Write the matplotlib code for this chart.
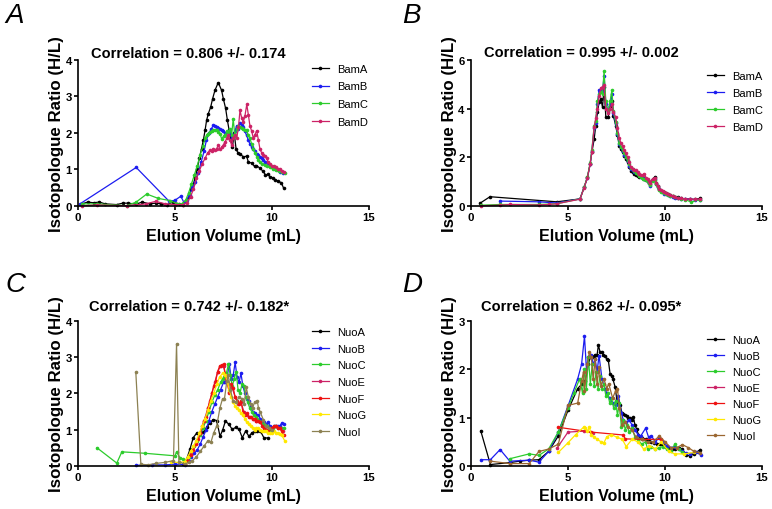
import matplotlib
matplotlib.use("Agg")
import matplotlib.pyplot as plt

plt.rcParams["font.family"] = ["Liberation Sans", "DejaVu Sans"]

# ---- panel A: Bam, weak correlation ----
a_bamA = [(0.2, 0.05), (0.5, 0.1), (0.8, 0.08), (1.1, 0.1), (1.4, 0.05), (2.0, 0.03), (2.3, 0.07), (2.6, 0.07),
          (3.0, 0.04), (3.3, 0.1), (3.7, 0.05), (4.0, 0.07), (4.3, 0.05), (4.6, 0.03), (4.9, 0.1), (5.2, 0.05),
          (5.4, 0.03), (5.55, 0.09), (5.7, 0.23), (5.85, 0.46), (5.95, 0.6), (6.05, 0.79), (6.15, 1.02), (6.25, 1.3),
          (6.37, 1.57), (6.46, 1.8), (6.55, 2.07), (6.63, 2.35), (6.72, 2.53), (6.84, 2.71), (6.94, 2.94), (7.06, 3.17),
          (7.23, 3.38), (7.4, 3.17), (7.49, 2.94), (7.61, 2.67), (7.7, 2.35), (7.79, 2.07), (7.88, 1.8), (7.96, 1.6),
          (8.05, 2.0), (8.15, 1.55), (8.25, 1.45), (8.35, 1.43), (8.52, 1.34), (8.69, 1.36), (8.78, 1.2), (8.95, 1.17),
          (9.1, 1.08), (9.2, 1.1), (9.36, 1.04), (9.53, 0.95), (9.66, 0.85), (9.79, 0.86), (9.92, 0.78), (10.05, 0.77),
          (10.18, 0.7), (10.3, 0.68), (10.48, 0.63), (10.6, 0.48)]
a_bamB = [(0.1, 0.05), (3.0, 1.05), (4.7, 0.12), (5.0, 0.15), (5.3, 0.26), (5.45, 0.1), (5.6, 0.15), (5.75, 0.3),
          (5.9, 0.5), (6.05, 0.65), (6.2, 0.9), (6.35, 1.2), (6.5, 1.5), (6.62, 1.8), (6.75, 2.0), (6.87, 2.1),
          (6.98, 2.22), (7.07, 2.2), (7.15, 2.16), (7.24, 2.12), (7.32, 2.1), (7.4, 2.08), (7.49, 2.05), (7.58, 2.0),
          (7.67, 2.02), (7.76, 2.06), (7.84, 2.0), (7.92, 1.85), (8.0, 1.9), (8.09, 2.05), (8.18, 2.2), (8.27, 2.1),
          (8.35, 2.28), (8.44, 2.22), (8.52, 2.16), (8.6, 2.05), (8.69, 1.93), (8.78, 1.8), (8.86, 1.7), (8.95, 1.62),
          (9.04, 1.57), (9.12, 1.5), (9.21, 1.43), (9.3, 1.38), (9.38, 1.34), (9.47, 1.3), (9.55, 1.25), (9.65, 1.2),
          (9.8, 1.16), (9.92, 1.1), (10.05, 1.07), (10.18, 1.0), (10.3, 0.98), (10.43, 0.93), (10.56, 0.89)]
a_bamC = [(0.2, 0.05), (1.0, 0.05), (2.5, 0.0), (3.0, 0.1), (3.54, 0.32), (4.14, 0.2), (4.74, 0.14), (5.1, 0.06),
          (5.35, 0.05), (5.55, 0.15), (5.7, 0.35), (5.85, 0.6), (6.0, 0.85), (6.15, 1.1), (6.3, 1.4), (6.45, 1.65),
          (6.55, 1.85), (6.63, 1.93), (6.72, 1.98), (6.8, 2.02), (6.9, 2.05), (6.98, 2.07), (7.07, 2.08), (7.15, 2.07),
          (7.24, 2.02), (7.32, 1.98), (7.4, 1.84), (7.5, 1.9), (7.6, 1.95), (7.68, 2.05), (7.75, 2.02), (7.84, 2.1),
          (7.92, 1.95), (8.0, 2.38), (8.09, 1.9), (8.18, 2.1), (8.27, 2.2), (8.35, 2.15), (8.44, 2.12), (8.52, 2.11),
          (8.6, 2.09), (8.69, 2.07), (8.78, 1.93), (8.86, 1.85), (8.95, 1.7), (9.04, 1.55), (9.12, 1.45), (9.21, 1.35),
          (9.3, 1.25), (9.38, 1.2), (9.5, 1.15), (9.62, 1.12), (9.75, 1.1), (9.9, 1.05), (10.05, 1.0), (10.2, 0.98),
          (10.35, 0.95), (10.5, 0.92), (10.65, 0.89)]
a_bamD = [(0.2, 0.0), (1.0, 0.02), (2.5, 0.0), (3.5, 0.05), (4.0, 0.12), (4.5, 0.05), (5.0, 0.03), (5.4, 0.03),
          (5.6, 0.08), (5.8, 0.25), (5.95, 0.45), (6.1, 0.75), (6.25, 0.95), (6.4, 1.15), (6.55, 1.3), (6.68, 1.45),
          (6.8, 1.52), (6.9, 1.5), (6.98, 1.57), (7.07, 1.52), (7.15, 1.57), (7.23, 1.66), (7.32, 1.55), (7.4, 1.6),
          (7.5, 1.68), (7.58, 1.75), (7.67, 1.85), (7.75, 1.93), (7.84, 1.8), (7.92, 1.66), (8.0, 1.85), (8.09, 1.95),
          (8.18, 1.85), (8.27, 2.15), (8.35, 2.62), (8.44, 2.4), (8.52, 2.3), (8.6, 2.45), (8.7, 2.78), (8.78, 2.5),
          (8.86, 2.2), (8.95, 2.05), (9.04, 1.85), (9.12, 1.95), (9.21, 2.06), (9.3, 1.8), (9.38, 1.55), (9.47, 1.45),
          (9.55, 1.4), (9.64, 1.37), (9.72, 1.3), (9.8, 1.2), (9.9, 1.15), (10.0, 1.1), (10.1, 1.08), (10.2, 1.05),
          (10.3, 1.02), (10.4, 1.0), (10.5, 0.95), (10.6, 0.92)]

# ---- panel B: Bam, strong correlation ----
b_bamA = [(0.46, 0.1), (0.98, 0.37), (4.42, 0.16), (5.62, 0.28), (5.83, 0.76), (6.0, 1.17), (6.14, 1.72), (6.23, 2.2),
          (6.35, 2.75), (6.43, 3.3), (6.52, 3.85), (6.6, 4.26), (6.69, 4.4), (6.78, 4.05), (6.86, 4.9), (6.95, 3.64),
          (7.07, 3.64), (7.17, 4.12), (7.26, 4.33), (7.34, 3.7), (7.46, 3.3), (7.55, 2.9), (7.64, 2.47), (7.72, 2.33),
          (7.81, 2.2), (7.9, 2.06), (7.98, 1.92), (8.07, 1.79), (8.15, 1.58), (8.24, 1.44), (8.33, 1.37), (8.41, 1.3),
          (8.5, 1.27), (8.59, 1.24), (8.68, 1.2), (8.76, 1.17), (8.85, 1.13), (8.93, 1.1), (9.02, 1.06), (9.1, 1.03),
          (9.17, 0.95), (9.24, 0.9), (9.36, 1.1), (9.48, 1.17), (9.55, 0.95), (9.62, 0.82), (9.7, 0.7), (9.79, 0.62),
          (9.88, 0.58), (9.96, 0.55), (10.05, 0.52), (10.14, 0.48), (10.27, 0.44), (10.4, 0.41), (10.52, 0.37),
          (10.65, 0.34), (10.85, 0.3), (11.05, 0.28), (11.3, 0.27), (11.55, 0.26), (11.82, 0.3)]
b_bamB = [(1.5, 0.19), (3.5, 0.16), (4.42, 0.11), (5.62, 0.28), (5.83, 0.75), (6.0, 1.15), (6.14, 1.7), (6.23, 2.25),
          (6.35, 3.2), (6.43, 3.4), (6.52, 4.2), (6.6, 4.75), (6.69, 4.8), (6.78, 4.7), (6.86, 5.35), (6.95, 4.2),
          (7.07, 3.9), (7.17, 4.2), (7.26, 4.6), (7.34, 3.8), (7.46, 3.4), (7.55, 2.95), (7.64, 2.55), (7.72, 2.4),
          (7.81, 2.25), (7.9, 2.1), (7.98, 2.0), (8.07, 1.85), (8.15, 1.65), (8.24, 1.5), (8.33, 1.45), (8.41, 1.4),
          (8.5, 1.38), (8.59, 1.3), (8.68, 1.25), (8.76, 1.2), (8.85, 1.15), (8.93, 1.12), (9.02, 1.08), (9.1, 1.0),
          (9.17, 0.92), (9.24, 0.8), (9.36, 1.05), (9.48, 1.1), (9.55, 0.9), (9.62, 0.78), (9.7, 0.68), (9.79, 0.6),
          (9.88, 0.55), (9.96, 0.5), (10.05, 0.48), (10.14, 0.45), (10.27, 0.4), (10.4, 0.36), (10.52, 0.33),
          (10.65, 0.3), (10.85, 0.28), (11.05, 0.27), (11.3, 0.26), (11.55, 0.25), (11.82, 0.22)]
b_bamC = [(0.5, 0.02), (1.5, 0.05), (3.5, 0.05), (4.42, 0.08), (5.62, 0.28), (5.83, 0.75), (6.0, 1.18), (6.14, 1.75),
          (6.23, 2.3), (6.35, 3.3), (6.43, 3.5), (6.52, 4.3), (6.6, 4.6), (6.69, 4.7), (6.78, 4.6), (6.86, 5.55),
          (6.95, 4.3), (7.07, 3.85), (7.17, 4.3), (7.26, 4.75), (7.34, 3.9), (7.46, 3.45), (7.55, 3.0), (7.64, 2.6),
          (7.72, 2.42), (7.81, 2.3), (7.9, 2.15), (7.98, 2.0), (8.07, 1.88), (8.15, 1.7), (8.24, 1.55), (8.33, 1.5),
          (8.41, 1.42), (8.5, 1.36), (8.59, 1.3), (8.68, 1.22), (8.76, 1.18), (8.85, 1.12), (8.93, 1.1), (9.02, 1.05),
          (9.1, 1.0), (9.17, 0.93), (9.24, 0.85), (9.36, 1.0), (9.48, 1.05), (9.55, 0.9), (9.62, 0.75), (9.7, 0.65),
          (9.79, 0.58), (9.88, 0.55), (9.96, 0.52), (10.05, 0.5), (10.14, 0.46), (10.27, 0.42), (10.4, 0.38),
          (10.52, 0.34), (10.65, 0.3), (10.85, 0.28), (11.05, 0.25), (11.35, 0.15), (11.82, 0.25)]
b_bamD = [(0.5, 0.0), (1.5, 0.02), (2.0, 0.05), (3.5, 0.03), (4.0, 0.05), (4.42, 0.08), (5.62, 0.27), (5.83, 0.74),
          (6.0, 1.15), (6.14, 1.7), (6.23, 2.2), (6.35, 3.25), (6.43, 3.6), (6.52, 4.0), (6.6, 4.5), (6.69, 4.85),
          (6.78, 4.9), (6.86, 4.95), (6.95, 4.0), (7.07, 3.8), (7.17, 4.0), (7.26, 4.2), (7.34, 3.85), (7.46, 3.65),
          (7.55, 3.2), (7.64, 2.8), (7.72, 2.6), (7.81, 2.45), (7.9, 2.3), (7.98, 2.15), (8.07, 2.0), (8.15, 1.8),
          (8.24, 1.6), (8.33, 1.5), (8.41, 1.48), (8.5, 1.45), (8.59, 1.38), (8.68, 1.3), (8.76, 1.27), (8.85, 1.25),
          (8.93, 1.32), (9.02, 1.15), (9.1, 1.1), (9.17, 1.0), (9.24, 0.95), (9.36, 1.1), (9.48, 1.15), (9.55, 0.95),
          (9.62, 0.8), (9.7, 0.7), (9.79, 0.64), (9.88, 0.6), (9.96, 0.56), (10.05, 0.52), (10.14, 0.48), (10.27, 0.44),
          (10.4, 0.4), (10.52, 0.36), (10.65, 0.32), (10.85, 0.3), (11.05, 0.28), (11.3, 0.27), (11.55, 0.26),
          (11.82, 0.28)]

# ---- panel C: Nuo, weak correlation ----
c_nuoA = [(5.4, 0.05), (5.6, 0.19), (5.77, 0.46), (5.94, 0.78), (6.11, 0.9), (6.29, 0.87), (6.46, 0.93), (6.63, 1.06),
          (6.8, 1.19), (6.98, 1.28), (7.15, 1.25), (7.32, 0.82), (7.45, 0.98), (7.6, 1.24), (7.77, 1.15), (7.95, 1.01),
          (8.12, 1.06), (8.3, 1.01), (8.47, 0.78), (8.64, 0.96), (8.81, 0.82), (8.98, 0.92), (9.1, 0.95), (9.24, 0.96),
          (9.4, 0.96), (9.58, 0.78), (9.78, 0.77)]
c_nuoB = [(3.0, 0.02), (3.8, 0.03), (4.5, 0.03), (5.0, 0.05), (5.5, 0.04), (5.7, 0.15), (5.85, 0.25), (6.0, 0.35),
          (6.15, 0.45), (6.3, 0.6), (6.45, 0.8), (6.6, 1.0), (6.75, 1.25), (6.9, 1.5), (7.05, 1.7), (7.2, 1.9),
          (7.35, 2.1), (7.5, 2.3), (7.6, 2.3), (7.7, 2.5), (7.8, 2.8), (7.9, 2.4), (8.0, 2.5), (8.1, 2.85), (8.2, 2.45),
          (8.3, 2.3), (8.4, 2.55), (8.5, 2.2), (8.6, 2.0), (8.7, 1.85), (8.8, 1.8), (8.9, 1.65), (9.0, 1.5), (9.1, 1.45),
          (9.2, 1.4), (9.3, 1.4), (9.4, 1.3), (9.5, 1.25), (9.6, 1.2), (9.7, 1.15), (9.8, 1.2), (9.9, 1.1), (10.0, 1.05),
          (10.1, 1.1), (10.2, 1.1), (10.3, 1.1), (10.4, 1.1), (10.5, 1.18), (10.6, 1.15)]
c_nuoC = [(0.98, 0.5), (2.0, 0.08), (2.26, 0.39), (3.46, 0.35), (5.0, 0.28), (5.08, 0.39), (5.26, 0.22), (5.4, 0.2),
          (5.55, 0.15), (5.7, 0.25), (5.85, 0.4), (6.0, 0.55), (6.15, 0.7), (6.3, 0.85), (6.45, 1.05), (6.6, 1.25),
          (6.75, 1.5), (6.9, 1.75), (7.05, 1.95), (7.2, 2.1), (7.35, 2.3), (7.45, 2.4), (7.55, 2.45), (7.65, 2.55),
          (7.75, 2.8), (7.85, 2.5), (7.95, 2.2), (8.05, 2.4), (8.15, 2.6), (8.25, 2.1), (8.35, 2.0), (8.45, 2.25),
          (8.55, 2.2), (8.65, 1.9), (8.75, 1.75), (8.85, 1.6), (8.95, 1.5), (9.05, 1.4), (9.15, 1.35), (9.25, 1.3),
          (9.35, 1.25), (9.45, 1.2), (9.55, 1.15), (9.65, 1.12), (9.75, 1.1), (9.85, 1.05), (9.95, 1.0), (10.05, 1.05),
          (10.15, 1.1), (10.3, 1.05), (10.45, 1.05), (10.6, 1.05)]
c_nuoE = [(5.5, 0.05), (5.8, 0.32), (6.1, 0.62), (6.3, 0.92), (6.5, 1.25), (6.7, 1.6), (6.9, 2.0), (7.05, 2.3),
          (7.2, 2.6), (7.35, 2.75), (7.5, 2.75), (7.65, 2.4), (7.8, 2.05), (7.95, 2.15), (8.1, 1.9), (8.25, 1.7),
          (8.4, 1.75), (8.55, 1.5), (8.7, 1.4), (8.85, 1.35), (9.0, 1.3), (9.2, 1.25), (9.4, 1.2), (9.6, 1.05),
          (9.8, 1.0), (10.0, 1.05), (10.2, 1.1), (10.4, 1.05), (10.55, 0.95)]
c_nuoF = [(5.5, 0.05), (5.65, 0.15), (5.8, 0.3), (5.95, 0.45), (6.1, 0.6), (6.2, 0.75), (6.3, 0.9), (6.4, 1.1),
          (6.5, 1.25), (6.6, 1.35), (6.7, 1.6), (6.8, 1.8), (6.9, 2.0), (7.0, 2.2), (7.1, 2.35), (7.2, 2.6), (7.3, 2.75),
          (7.4, 2.78), (7.5, 2.8), (7.6, 2.5), (7.7, 2.3), (7.8, 2.0), (7.9, 2.25), (8.0, 2.15), (8.1, 1.9), (8.2, 1.8),
          (8.3, 1.7), (8.4, 1.8), (8.5, 1.5), (8.6, 1.4), (8.7, 1.45), (8.8, 1.35), (8.9, 1.35), (9.0, 1.3), (9.1, 1.3),
          (9.2, 1.25), (9.3, 1.25), (9.4, 1.2), (9.5, 1.1), (9.6, 1.05), (9.7, 1.0), (9.8, 1.0), (9.9, 1.05),
          (10.0, 1.05), (10.1, 1.1), (10.2, 1.1), (10.3, 1.05), (10.4, 1.05), (10.5, 0.95), (10.6, 0.85)]
c_nuoG = [(4.8, 0.1), (5.2, 0.1), (5.5, 0.12), (5.65, 0.25), (5.8, 0.4), (5.95, 0.55), (6.1, 0.7), (6.25, 0.9),
          (6.4, 1.1), (6.55, 1.3), (6.7, 1.55), (6.85, 1.8), (7.0, 2.0), (7.15, 2.25), (7.3, 2.45), (7.45, 2.55),
          (7.6, 2.5), (7.7, 2.3), (7.8, 2.1), (7.9, 1.9), (8.0, 1.75), (8.1, 1.65), (8.2, 1.6), (8.3, 1.55), (8.4, 1.45),
          (8.5, 1.4), (8.6, 1.3), (8.7, 1.2), (8.8, 1.15), (8.9, 1.1), (9.0, 1.05), (9.1, 1.0), (9.2, 1.05), (9.3, 1.05),
          (9.4, 1.0), (9.5, 0.95), (9.6, 0.95), (9.7, 0.95), (9.8, 0.92), (9.9, 0.9), (10.0, 0.9), (10.1, 0.95),
          (10.2, 0.92), (10.3, 0.9), (10.4, 0.88), (10.5, 0.85), (10.65, 0.7)]
c_nuoI = [(2.98, 2.58), (3.24, 0.05), (3.6, 0.03), (4.0, 0.07), (4.5, 0.1), (4.92, 0.15), (5.08, 3.36), (5.2, 0.12),
          (5.5, 0.05), (5.7, 0.1), (5.9, 0.15), (6.1, 0.25), (6.3, 0.4), (6.5, 0.55), (6.7, 0.7), (6.85, 0.65),
          (7.0, 0.92), (7.15, 1.1), (7.32, 1.61), (7.45, 1.85), (7.55, 1.85), (7.67, 2.33), (7.75, 2.5), (7.85, 2.1),
          (8.0, 1.8), (8.15, 1.75), (8.3, 1.9), (8.45, 1.85), (8.57, 1.7), (8.67, 2.17), (8.78, 1.9), (8.9, 1.7),
          (9.0, 1.6), (9.1, 1.75), (9.24, 1.8), (9.3, 1.6), (9.38, 1.5), (9.55, 1.28), (9.7, 1.1), (9.85, 1.05),
          (10.0, 1.0)]

# ---- panel D: Nuo, strong correlation ----
d_nuoA = [(0.5, 0.73), (1.0, 0.03), (2.0, 0.07), (2.5, 0.1), (3.0, 0.12), (3.5, 0.13), (4.0, 0.3), (4.5, 0.62),
          (5.0, 1.15), (5.5, 1.6), (5.71, 1.69), (5.88, 1.75), (6.05, 2.1), (6.15, 2.25), (6.23, 2.28), (6.32, 2.25),
          (6.4, 2.3), (6.5, 2.3), (6.57, 2.5), (6.65, 2.35), (6.74, 2.35), (6.82, 2.3), (6.91, 2.28), (7.0, 2.2),
          (7.08, 2.18), (7.17, 1.9), (7.25, 1.85), (7.31, 1.8), (7.43, 1.63), (7.51, 1.39), (7.6, 1.3), (7.69, 1.25),
          (7.78, 1.1), (7.86, 1.07), (7.95, 1.05), (8.03, 1.03), (8.11, 1.0), (8.2, 1.0), (8.28, 0.95), (8.37, 1.01),
          (8.45, 0.85), (8.54, 0.76), (8.63, 0.65), (8.72, 0.58), (8.8, 0.57), (8.89, 0.55), (9.0, 0.55), (9.15, 0.52),
          (9.3, 0.5), (9.45, 0.48), (9.6, 0.46), (9.75, 0.45), (9.9, 0.43), (10.05, 0.4), (10.2, 0.38), (10.35, 0.35),
          (10.5, 0.35), (10.7, 0.38), (10.9, 0.35), (11.1, 0.22), (11.3, 0.21), (11.5, 0.25), (11.82, 0.34)]
d_nuoB = [(0.5, 0.13), (1.0, 0.13), (1.5, 0.34), (2.0, 0.1), (3.0, 0.12), (3.5, 0.08), (4.0, 0.3), (4.5, 0.7),
          (5.0, 1.24), (5.5, 1.8), (5.7, 2.1), (5.85, 2.68), (5.95, 2.0), (6.05, 2.25), (6.2, 2.3), (6.3, 2.1),
          (6.4, 2.2), (6.5, 1.95), (6.6, 2.28), (6.75, 1.8), (6.9, 1.6), (7.0, 1.5), (7.15, 1.4), (7.3, 1.3),
          (7.45, 1.25), (7.6, 1.45), (7.75, 1.1), (7.85, 0.95), (8.0, 0.9), (8.15, 0.95), (8.3, 0.85), (8.45, 0.75),
          (8.6, 0.65), (8.75, 0.62), (9.0, 0.78), (9.15, 0.6), (9.3, 0.62), (9.5, 0.5), (9.7, 0.58), (9.9, 0.5),
          (10.1, 0.42), (10.3, 0.38), (10.5, 0.4), (10.7, 0.35), (10.9, 0.3), (11.1, 0.27), (11.3, 0.25), (11.6, 0.28),
          (11.85, 0.23)]
d_nuoC = [(2.0, 0.15), (3.0, 0.25), (3.5, 0.22), (4.0, 0.35), (4.5, 0.7), (5.0, 1.2), (5.3, 1.5), (5.6, 1.8),
          (5.75, 1.5), (5.85, 2.0), (5.95, 1.6), (6.05, 2.25), (6.15, 1.7), (6.25, 2.1), (6.35, 1.65), (6.45, 1.95),
          (6.55, 1.6), (6.65, 1.85), (6.75, 1.6), (6.85, 1.7), (6.95, 1.45), (7.05, 1.5), (7.15, 1.3), (7.25, 1.4),
          (7.35, 1.2), (7.45, 1.35), (7.55, 1.05), (7.65, 1.3), (7.75, 0.8), (7.85, 0.95), (7.95, 0.75), (8.05, 0.85),
          (8.15, 0.7), (8.3, 0.78), (8.45, 0.6), (8.6, 0.55), (8.8, 0.45), (9.0, 0.5), (9.1, 0.35), (9.3, 0.4),
          (9.5, 0.35), (9.7, 0.38), (9.9, 0.4), (10.1, 0.35), (10.3, 0.3), (10.5, 0.45), (10.7, 0.35), (10.9, 0.28)]
d_nuoE = [(4.45, 0.38), (5.0, 0.7), (5.8, 0.72), (6.3, 0.68)]
d_nuoF = [(4.5, 0.8), (6.2, 0.7), (7.85, 0.64), (7.95, 0.56), (8.8, 0.55), (9.8, 0.55)]
d_nuoG = [(4.5, 0.28), (5.0, 0.48), (5.4, 0.65), (5.8, 0.8), (5.9, 0.78), (6.0, 0.72), (6.1, 0.8), (6.2, 0.65),
          (6.35, 0.6), (6.5, 0.55), (6.7, 0.5), (6.85, 0.48), (7.0, 0.6), (7.2, 0.65), (7.5, 0.6), (7.8, 0.55),
          (8.0, 0.4), (8.3, 0.55), (8.6, 0.5), (8.9, 0.35), (9.2, 0.42), (9.5, 0.35), (9.8, 0.5), (10.2, 0.3),
          (10.5, 0.25), (11.0, 0.25), (11.5, 0.28)]
d_nuoI = [(1.0, 0.1), (2.0, 0.05), (3.0, 0.05), (3.5, 0.3), (4.0, 0.35), (4.5, 0.45), (5.0, 1.25), (5.5, 1.3),
          (5.7, 1.75), (5.8, 1.95), (5.85, 1.55), (6.0, 2.1), (6.1, 2.35), (6.2, 2.25), (6.3, 1.8), (6.4, 2.2),
          (6.5, 1.7), (6.6, 2.05), (6.7, 1.65), (6.85, 1.8), (7.0, 1.6), (7.1, 1.7), (7.3, 1.4), (7.45, 1.55),
          (7.55, 1.6), (7.65, 1.2), (7.8, 0.85), (7.95, 0.9), (8.1, 0.8), (8.3, 0.75), (8.5, 0.6), (8.8, 0.55),
          (9.1, 0.5), (9.4, 0.5), (9.7, 0.62), (10.0, 0.5), (10.3, 0.38), (10.6, 0.38), (10.9, 0.44), (11.2, 0.38),
          (11.5, 0.3), (11.8, 0.27)]

bam_names = ["BamA", "BamB", "BamC", "BamD"]
nuo_names = ["NuoA", "NuoB", "NuoC", "NuoE", "NuoF", "NuoG", "NuoI"]
bam_colors = ["#000000", "#1c1cf0", "#2ccc2c", "#cc2266"]
nuo_colors_c = ["#000000", "#1c1cf0", "#2ccc2c", "#cc2266", "#ee1111", "#ffe800", "#8c8152"]
nuo_colors_d = ["#000000", "#1c1cf0", "#2ccc2c", "#cc2266", "#ee1111", "#ffe800", "#9a6630"]

W, H = 772, 510


def panel(rect_px, series, names, colors, ymax, yticks, title, title_y, letter, letter_xy, leg_anchor, leg_sp):
    x0, ytop, w, h = rect_px
    ax = fig.add_axes([x0 / W, 1 - (ytop + h) / H, w / W, h / H])
    for pts, name, col in zip(series, names, colors):
        xs = [p[0] for p in pts]
        ys = [p[1] for p in pts]
        ax.plot(xs, ys, "-o", color=col, lw=0.9, ms=2.6, mew=0, label=name, clip_on=False)
    ax.set_xlim(0, 15)
    ax.set_ylim(0, ymax)
    ax.set_xticks([0, 5, 10, 15])
    ax.set_yticks(yticks)
    for s in ["top", "right"]:
        ax.spines[s].set_visible(False)
    for s in ["left", "bottom"]:
        ax.spines[s].set_linewidth(1.2)
    ax.tick_params(direction="out", length=3, width=1.2, labelsize=8.2, pad=1.5)
    for lab in ax.get_xticklabels() + ax.get_yticklabels():
        lab.set_fontweight("bold")
    ax.set_xlabel("Elution Volume (mL)", fontsize=11.5, fontweight="bold", labelpad=4)
    ax.set_ylabel("Isotopologue Ratio (H/L)", fontsize=12.2, fontweight="bold", labelpad=1)
    ax.text(0.38, title_y, title, transform=ax.transAxes, ha="center", va="center",
            fontsize=10.5, fontweight="bold")
    fig.text(letter_xy[0] / W, 1 - letter_xy[1] / H, letter, fontsize=20, style="italic",
             ha="center", va="center")
    ax.legend(loc="upper left", bbox_to_anchor=leg_anchor, frameon=False, fontsize=8,
              handlelength=1.5, handletextpad=0.75, labelspacing=leg_sp, borderpad=0, borderaxespad=0)
    return ax


fig = plt.figure(figsize=(W / 100, H / 100), dpi=100)

panel((78, 61, 291, 145.7), [a_bamA, a_bamB, a_bamC, a_bamD], bam_names, bam_colors,
      4, [0, 1, 2, 3, 4], "Correlation = 0.806 +/- 0.174", 1.045, "A", (15, 16), (0.804, 0.973), 0.68)
panel((471, 61, 291, 145.7), [b_bamA, b_bamB, b_bamC, b_bamD], bam_names, bam_colors,
      6, [0, 2, 4, 6], "Correlation = 0.995 +/- 0.002", 1.052, "B", (411, 16), (0.811, 0.925), 0.63)
panel((78, 321.7, 291, 145.3), [c_nuoA, c_nuoB, c_nuoC, c_nuoE, c_nuoF, c_nuoG, c_nuoI], nuo_names, nuo_colors_c,
      4, [0, 1, 2, 3, 4], "Correlation = 0.742 +/- 0.182*", 1.098, "C", (15, 285), (0.804, 0.957), 0.6)
panel((471, 321.7, 291, 145.3), [d_nuoA, d_nuoB, d_nuoC, d_nuoE, d_nuoF, d_nuoG, d_nuoI], nuo_names, nuo_colors_d,
      3, [0, 1, 2, 3], "Correlation = 0.862 +/- 0.095*", 1.098, "D", (412, 285), (0.811, 0.902), 0.54)

fig.savefig("out.png", dpi=100)
